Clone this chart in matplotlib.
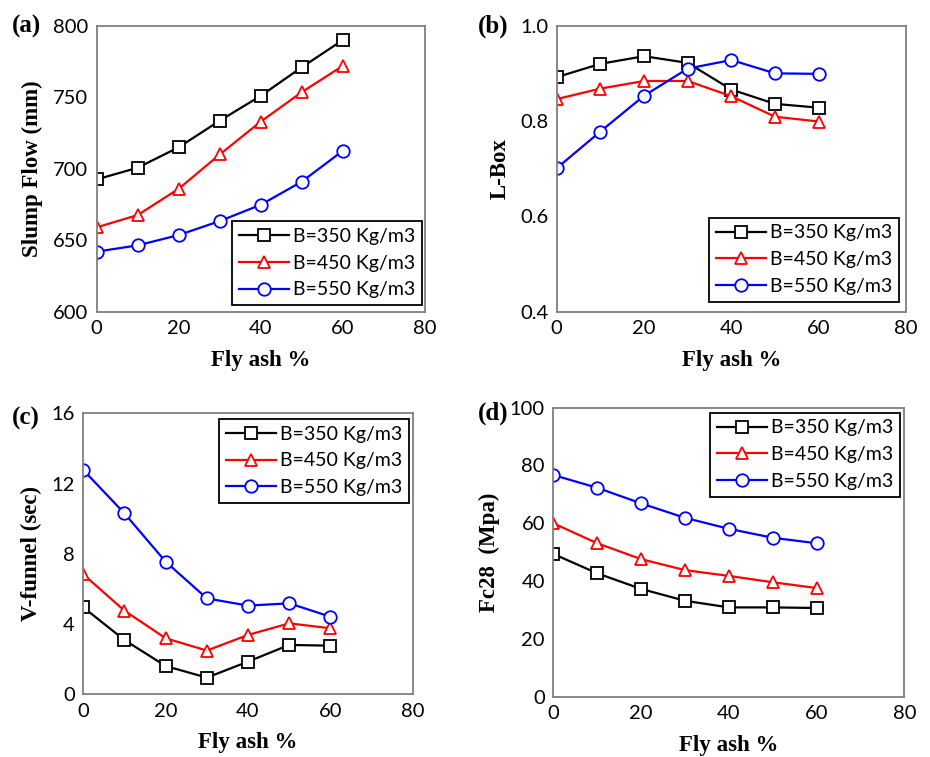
import matplotlib
matplotlib.use('Agg')
import matplotlib.pyplot as plt

fly_ash = [0, 10, 20, 30, 40, 50, 60]
labels = ['B=350 Kg/m3', 'B=450 Kg/m3', 'B=550 Kg/m3']

slump_350 = [692.5, 700.7, 715, 733.6, 751, 771, 790]
slump_450 = [659, 667.6, 686, 710, 733, 753.6, 772]
slump_550 = [642, 646.4, 653.6, 663.4, 674.8, 691, 712.6]

lbox_350 = [0.892, 0.920, 0.936, 0.922, 0.866, 0.836, 0.828]
lbox_450 = [0.846, 0.868, 0.884, 0.884, 0.852, 0.809, 0.799]
lbox_550 = [0.701, 0.778, 0.853, 0.910, 0.928, 0.900, 0.899]

vfun_350 = [4.95, 3.09, 1.61, 0.95, 1.86, 2.81, 2.77]
vfun_450 = [6.83, 4.76, 3.19, 2.49, 3.38, 4.04, 3.76]
vfun_550 = [12.77, 10.30, 7.55, 5.46, 5.05, 5.18, 4.42]

fc28_350 = [49.4, 42.7, 37.3, 33.2, 30.9, 30.9, 30.7]
fc28_450 = [60.0, 53.1, 47.6, 43.8, 41.8, 39.6, 37.6]
fc28_550 = [76.7, 72.3, 66.9, 61.9, 58.1, 55.0, 53.1]

W, H = 930, 757
fig = plt.figure(figsize=(W / 100, H / 100), dpi=100)

tick_font = 'Lato'
label_font = {'family': 'Liberation Serif', 'weight': 'bold', 'size': 16.5}


def box(l, r, t, b):
    return [l / W, 1 - b / H, (r - l) / W, (b - t) / H]


# tag, axes box, tag position (px), ylabel, ylim, yticks, data, legend loc, anchor, format
panels = [
    ('(a)', box(96.7, 425, 25.7, 311.7), (12, 26), 'Slump Flow (mm)', (600, 800),
     [600, 650, 700, 750, 800], [slump_350, slump_450, slump_550],
     'lower right', (0.991, 0.023), '%d'),
    ('(b)', box(556.7, 906, 25.7, 311.7), (478, 26), 'L-Box', (0.4, 1.0),
     [0.4, 0.6, 0.8, 1.0], [lbox_350, lbox_450, lbox_550],
     'lower right', (0.98, 0.035), '%.1f'),
    ('(c)', box(83.3, 412.7, 413.3, 694.3), (12, 418), 'V-funnel (sec)', (0, 16),
     [0, 4, 8, 12, 16], [vfun_350, vfun_450, vfun_550],
     'upper right', (0.99, 0.98), '%d'),
    ('(d)', box(553.3, 904.3, 407.7, 696.7), (478, 413), 'Fc28  (Mpa)', (0, 100),
     [0, 20, 40, 60, 80, 100], [fc28_350, fc28_450, fc28_550],
     'upper right', (0.989, 0.983), '%d'),
]

styles = [('black', 's'), ('red', '^'), ('blue', 'o')]

for tag, rect, tagpos, ylabel, ylim, yticks, series, loc, anchor, fmt in panels:
    ax = fig.add_axes(rect)
    for vals, (c, m), lab in zip(series, styles, labels):
        ax.plot(fly_ash, vals, color=c, marker=m, markersize=9, markerfacecolor='white',
                markeredgecolor=c, markeredgewidth=1.3, linewidth=1.6, label=lab)
    ax.set_xlim(0, 80)
    ax.set_ylim(*ylim)
    ax.set_xticks([0, 20, 40, 60, 80])
    ax.set_yticks(yticks)
    ax.set_yticklabels([fmt % v for v in yticks], family=tick_font, fontsize=14.5)
    ax.set_xticklabels(['0', '20', '40', '60', '80'], family=tick_font, fontsize=14.5)
    ax.tick_params(length=0, pad=6)
    for s in ax.spines.values():
        s.set_color('#7f7f7f')
        s.set_linewidth(1.3)
    ax.set_xlabel('Fly ash %', fontdict=label_font, labelpad=9)
    ax.set_ylabel(ylabel, fontdict=label_font, labelpad=7)
    fig.text(tagpos[0] / W, 1 - tagpos[1] / H, tag, family='Liberation Serif',
             weight='bold', fontsize=18, va='center', ha='left')
    leg = ax.legend(loc=loc, bbox_to_anchor=anchor, prop={'family': tick_font, 'size': 14},
                    fancybox=False, framealpha=1, edgecolor='black', handlelength=2.6,
                    handletextpad=0.2, labelspacing=0.5, borderpad=0.35, borderaxespad=0.0)
    leg.get_frame().set_linewidth(1.3)

fig.savefig('out.png', dpi=100)
